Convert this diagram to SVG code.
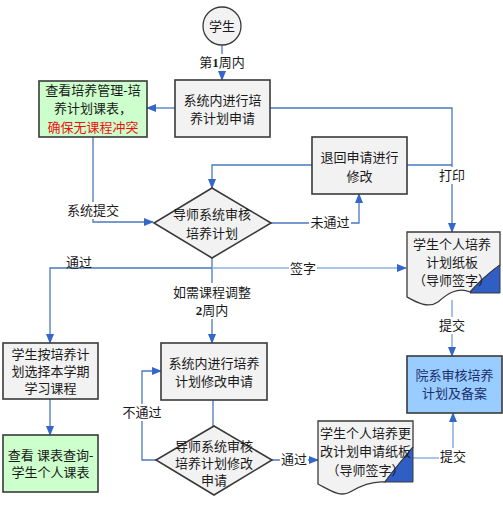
<svg xmlns="http://www.w3.org/2000/svg" width="503" height="514" viewBox="0 0 503 514">
<style>
text{font-family:"Liberation Serif","Noto Sans CJK SC",serif;font-size:13px;fill:#1a1a1a;text-anchor:middle;dominant-baseline:central}
.box{fill:#f2f2f2;stroke:#3a3a3a;stroke-width:1.6}
.green{fill:#ccffcc;stroke:#3a3a3a;stroke-width:1.6}
.blue{fill:#99ccff;stroke:#3a3a3a;stroke-width:1.6}
.doc{fill:#f2f2f2;stroke:#3a3a3a;stroke-width:1.3}
.fold{fill:#2f5fc4;stroke:#3a3a3a;stroke-width:1}
.c{fill:none;stroke:#4a78c0;stroke-width:1.3}
.cl{fill:none;stroke:#8db3e2;stroke-width:1.6}
.lbl{fill:#ffffff}
.red{fill:#ee1111}
.navy{fill:#1c2f6b}
</style>
<defs>
<marker id="ar" markerWidth="10" markerHeight="8" refX="9" refY="4" orient="auto" markerUnits="userSpaceOnUse">
<path d="M0,0 L10,4 L0,8 Z" fill="#3567c8"/>
</marker>
</defs>
<g id="connectors">
<path class="c" d="M222,45 V80" marker-end="url(#ar)"/>
<path class="c" d="M175,108 H147" marker-end="url(#ar)"/>
<path class="c" d="M93,137 V222 H153" marker-end="url(#ar)"/>
<path class="c" d="M312,165 H212 V188" marker-end="url(#ar)"/>
<path class="c" d="M271,223 H359 V194" marker-end="url(#ar)"/>
<path class="c" d="M270,108 H452 V232" marker-end="url(#ar)"/>
<path class="c" d="M407,165 H452"/>
<path class="c" d="M212,258 V343" marker-end="url(#ar)"/>
<path class="cl" d="M212,268 H406" marker-end="url(#ar)"/>
<path class="c" d="M212,268 H50 V343" marker-end="url(#ar)"/>
<path class="c" d="M50,399 V435" marker-end="url(#ar)"/>
<path class="c" d="M213,400 V426"/>
<path class="c" d="M156,460 H142 V371 H161" marker-end="url(#ar)"/>
<path class="c" d="M272,460 H318" marker-end="url(#ar)"/>
<path class="cl" d="M452,300 V356" marker-end="url(#ar)"/>
<path class="cl" d="M413,458 H453 V413" marker-end="url(#ar)"/>
<rect class="lbl" x="198" y="54" width="48" height="17"/>
<text x="222" y="62">第<tspan font-weight="bold">1</tspan>周内</text>
<rect class="lbl" x="66" y="202" width="54" height="17"/>
<text x="93" y="210">系统提交</text>
<rect class="lbl" x="309" y="214" width="42" height="17"/>
<text x="330" y="222">未通过</text>
<rect class="lbl" x="438" y="167" width="28" height="17"/>
<text x="452" y="175">打印</text>
<rect class="lbl" x="172" y="283" width="80" height="36"/>
<text x="212" y="292">如需课程调整</text>
<text x="212" y="310"><tspan font-weight="bold">2</tspan>周内</text>
<rect class="lbl" x="289" y="260" width="28" height="17"/>
<text x="303" y="268">签字</text>
<text x="79" y="262">通过</text>
<rect class="lbl" x="121" y="404" width="42" height="17"/>
<text x="142" y="412">不通过</text>
<rect class="lbl" x="280" y="451" width="28" height="17"/>
<text x="294" y="459">通过</text>
<rect class="lbl" x="438" y="317" width="28" height="17"/>
<text x="452" y="325">提交</text>
<rect class="lbl" x="439" y="448" width="28" height="17"/>
<text x="453" y="456">提交</text>
</g>
<g id="start">
<circle cx="222" cy="26" r="19" fill="#f2f2f2" stroke="#3a3a3a" stroke-width="1.3"/>
<text x="222" y="26">学生</text>
</g>
<g id="apply">
<rect class="box" x="175" y="80" width="95" height="57"/>
<text x="222.5" y="100">系统内进行培</text>
<text x="222.5" y="118">养计划申请</text>
</g>
<g id="check">
<rect class="green" x="39" y="81" width="108" height="56"/>
<text x="93" y="90">查看培养管理-培</text>
<text x="93" y="108">养计划课表，</text>
<text x="93" y="127" class="red">确保无课程冲突</text>
</g>
<g id="retreat">
<rect class="box" x="312" y="137" width="95" height="57"/>
<text x="359.5" y="157">退回申请进行</text>
<text x="359.5" y="176">修改</text>
</g>
<g id="review">
<path class="box" d="M212,188 L271,223 L212,258 L154,223 Z"/>
<text x="212" y="214">导师系统审核</text>
<text x="212" y="233">培养计划</text>
</g>
<g id="paper1">
<path class="doc" d="M407,232 H500 V265 C490,272 478,283 470,292 C458,287 448,293 438,302 C428,309 416,302 407,297 Z"/>
<path class="fold" d="M500,265 V293 H470 C478,283 490,272 500,265 Z"/>
<text x="452" y="244">学生个人培养</text>
<text x="452" y="262">计划纸板</text>
<text x="452" y="280">（导师签字）</text>
</g>
<g id="select">
<rect class="box" x="3" y="343" width="95" height="56"/>
<text x="50.5" y="354">学生按培养计</text>
<text x="50.5" y="371">划选择本学期</text>
<text x="50.5" y="388">学习课程</text>
</g>
<g id="timetable">
<rect class="green" x="3" y="435" width="95" height="57"/>
<text x="50.5" y="455">查看 课表查询-</text>
<text x="50.5" y="472">学生个人课表</text>
</g>
<g id="modify">
<rect class="box" x="161" y="343" width="106" height="57"/>
<text x="214" y="363">系统内进行培养</text>
<text x="214" y="381">计划修改申请</text>
</g>
<g id="review2">
<path class="box" d="M214,426 L272,460 L214,495 L156,460 Z"/>
<text x="214" y="446">导师系统审核</text>
<text x="214" y="463">培养计划修改</text>
<text x="214" y="480">申请</text>
</g>
<g id="paper2">
<path class="doc" d="M318,421 H413 V447 C404,458 393,471 385,482 C372,481 360,486 350,492 C340,498 328,489 318,484 Z"/>
<path class="fold" d="M413,447 V482 H385 C393,471 404,458 413,447 Z"/>
<text x="365.5" y="433">学生个人培养更</text>
<text x="365.5" y="451">改计划申请纸板</text>
<text x="365.5" y="470">（导师签字）</text>
</g>
<g id="dept">
<rect class="blue" x="407" y="356" width="95" height="57"/>
<text x="454.5" y="375" class="navy">院系审核培养</text>
<text x="454.5" y="393" class="navy">计划及备案</text>
</g>
</svg>
